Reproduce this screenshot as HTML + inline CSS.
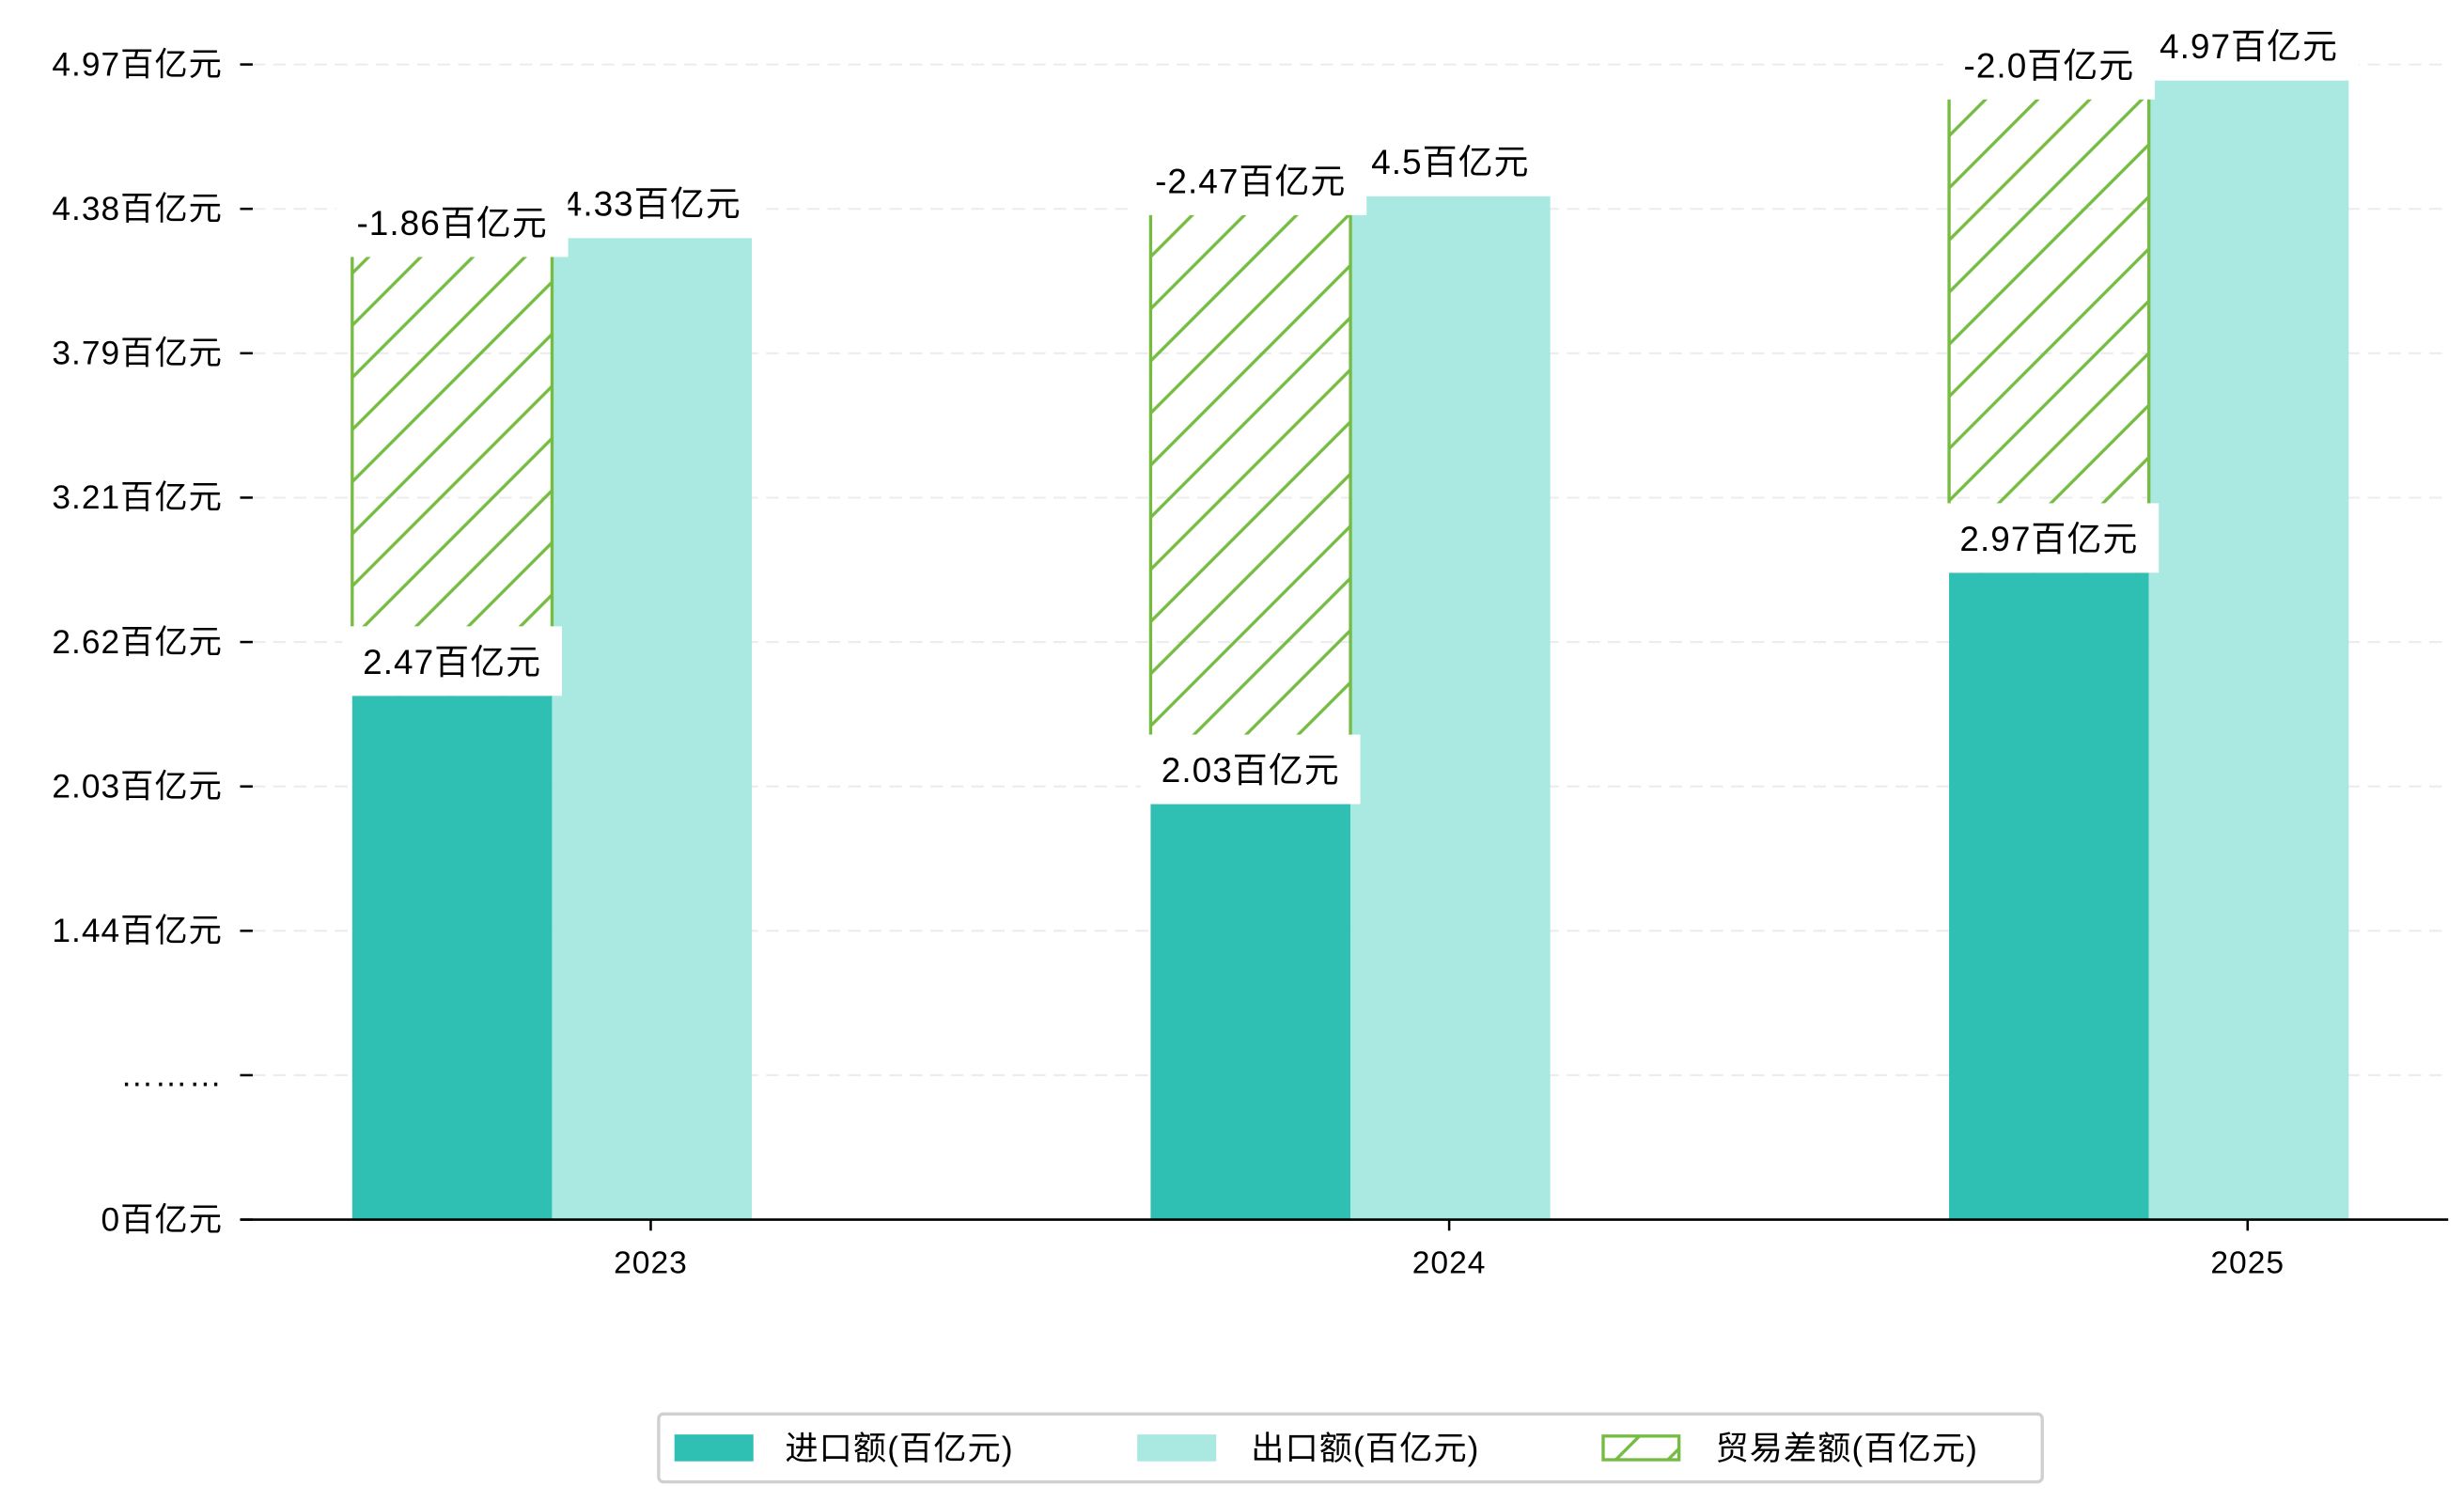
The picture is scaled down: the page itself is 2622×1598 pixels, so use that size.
<!DOCTYPE html>
<html><head><meta charset="utf-8"><style>
html,body{margin:0;padding:0;background:#fff;}
svg{display:block;}
text{font-family:"Liberation Sans","WenQuanYi Zen Hei","Noto Sans CJK SC",sans-serif;fill:#000;letter-spacing:0.6px;}
</style></head><body>
<svg id="chart" xmlns="http://www.w3.org/2000/svg" width="2622" height="1598" viewBox="0 0 1560 950.75">
<defs>
<pattern id="hatch" patternUnits="userSpaceOnUse" width="33" height="33">
<line x1="-2" y1="35" x2="35" y2="-2" stroke="#76bc43" stroke-width="2"/>
<line x1="-35" y1="35" x2="2" y2="-2" stroke="#76bc43" stroke-width="2"/>
<line x1="31" y1="35" x2="68" y2="-2" stroke="#76bc43" stroke-width="2"/>
</pattern>
<clipPath id="plotclip"><rect x="152" y="0" width="1400" height="772"/></clipPath>
</defs>
<g id="grid"></g>
<g id="yaxis"></g>
<g id="bars" clip-path="url(#plotclip)"></g>
<g id="labels"></g>
<line x1="152" y1="772" x2="1550" y2="772" stroke="#000" stroke-width="1.5"/>
<g id="xaxis"></g>
<g>
<rect x="417" y="895" width="876" height="43" rx="3" fill="#fff" stroke="#d0d0d0" stroke-width="2"/>
<rect x="427" y="908" width="50" height="17" fill="#2fbfb3"/>
<text x="497" y="924" font-size="21">进口额(百亿元)</text>
<rect x="720" y="908" width="50" height="17" fill="#aae8e2"/>
<text x="792" y="924" font-size="21">出口额(百亿元)</text>
<rect x="1015" y="909" width="48" height="15" fill="url(#hatch)" stroke="#76bc43" stroke-width="2"/>
<text x="1086" y="924" font-size="21">贸易差额(百亿元)</text>
</g>
</svg>
<script>
const years = ["2023", "2024", "2025"];
const imports = [2.47, 2.03, 2.97];
const exportsV = [4.33, 4.5, 4.97];
const balance = [-1.86, -2.47, -2.0];
const yTickLabels = ["0百亿元", "………", "1.44百亿元", "2.03百亿元", "2.62百亿元", "3.21百亿元", "3.79百亿元", "4.38百亿元", "4.97百亿元"];

const NS = "http://www.w3.org/2000/svg";
function el(tag, attrs, parent, txt) {
  const e = document.createElementNS(NS, tag);
  for (const k in attrs) e.setAttribute(k, attrs[k]);
  if (txt !== undefined) e.textContent = txt;
  parent.appendChild(e);
  return e;
}
const K = 155.8, Y0 = 509 + 2.03 * 155.8;
function yv(v) { return Y0 - v * K; }
function yt(i) { return 772 - i * 91.4; }
const G0 = 223, GSTEP = 505.5, BW = 126.5;
function xg(i) { return G0 + i * GSTEP; }

const grid = document.getElementById('grid');
const yaxis = document.getElementById('yaxis');
yTickLabels.forEach((lab, i) => {
  const y = yt(i);
  if (i > 0) {
    const g = el('line', {x1: 160, y1: y, x2: 1550, y2: y, stroke: '#ececec', 'stroke-width': 1.2, 'stroke-dasharray': '8,5'}, grid);
    
    
  }
  const tk = el('line', {x1: 152, y1: y, x2: 160, y2: y, stroke: '#000', 'stroke-width': 1.5}, yaxis);
  
  
  const t = el('text', {x: 141, y: y + 7, 'font-size': 21, 'text-anchor': 'end'}, yaxis, lab);
  
  
});

const bars = document.getElementById('bars');
const labels = document.getElementById('labels');
const xaxis = document.getElementById('xaxis');
function label(cx, cy, txt, name) {
  const g = el('g', {}, labels);
  
  
  const r = el('rect', {fill: '#fff'}, g);
  const t = el('text', {x: cx, y: cy + 8, 'font-size': 22, 'text-anchor': 'middle'}, g, txt);
  const w = t.getComputedTextLength() + 26;
  r.setAttribute('x', cx - w / 2); r.setAttribute('y', cy - 22);
  r.setAttribute('width', w); r.setAttribute('height', 44);
}
years.forEach((yr, i) => {
  const x = xg(i);
  const ti = yv(imports[i]), te = yv(exportsV[i]);
  const tb = ti - Math.abs(balance[i]) * K;
  const bi = el('rect', {x: x, y: ti, width: BW, height: 772 - ti, fill: '#2fbfb3'}, bars);
  
  
  const be = el('rect', {x: x + BW, y: te, width: BW, height: 772 - te, fill: '#aae8e2'}, bars);
  
  
  const bb = el('rect', {x: x, y: tb, width: BW, height: ti - tb, fill: 'url(#hatch)'}, bars);
  
  
  const sl = el('path', {d: 'M' + x + ' ' + tb + 'V' + ti + 'M' + (x + BW) + ' ' + tb + 'V' + ti, stroke: '#76bc43', 'stroke-width': 2, fill: 'none'}, bars);
  
  
  label(x + BW * 1.5, te - 22, exportsV[i] + '百亿元', 'label-export-' + yr);
  label(x + BW / 2, ti - 22, imports[i] + '百亿元', 'label-import-' + yr);
  label(x + BW / 2, tb - 10, balance[i].toFixed(balance[i] === Math.round(balance[i]) ? 1 : 2) + '百亿元', 'label-balance-' + yr);
  const xc = x + 189;
  const tk = el('line', {x1: xc, y1: 772, x2: xc, y2: 779, stroke: '#000', 'stroke-width': 1.5}, xaxis);
  
  
  const tl = el('text', {x: xc, y: 806, 'font-size': 20, 'text-anchor': 'middle'}, xaxis, yr);
  
  
});
</script>
</body></html>
